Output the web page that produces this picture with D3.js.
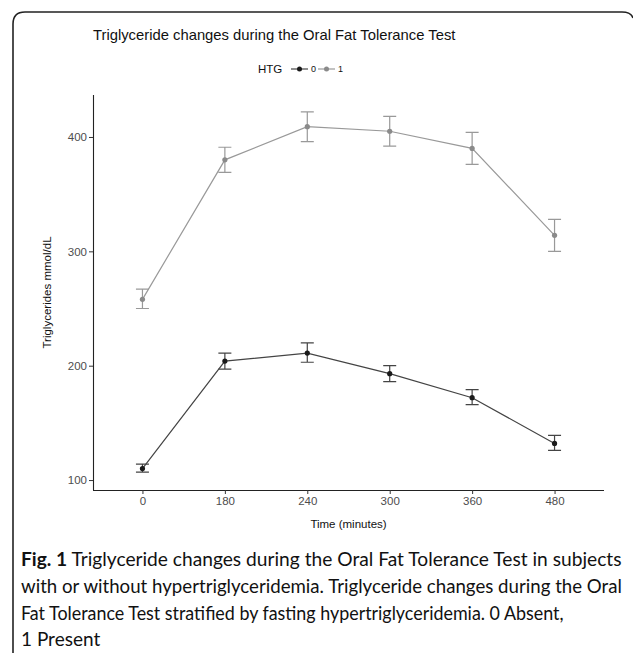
<!DOCTYPE html>
<html>
<head>
<meta charset="utf-8">
<script src="https://cdn.jsdelivr.net/npm/d3@7"></script>
<style>
  body { margin: 0; background: #fff; }
  svg { display: block; }
</style>
</head>
<body>
<div id="chart"></div>
<script>
// time points (categorical x axis)
var times = ["0", "180", "240", "300", "360", "480"];

// HTG = 0 (absent)
var htg0Mean = [110, 204, 211, 193, 172, 132];
var htg0Lo   = [107, 197, 203, 186, 166, 126];
var htg0Hi   = [114, 211, 220, 200, 179, 139];

// HTG = 1 (present)
var htg1Mean = [258, 380, 409, 405, 390, 314];
var htg1Lo   = [250, 369, 396, 392, 376, 300];
var htg1Hi   = [267, 391, 422, 418, 404, 328];

var yTicks = [100, 200, 300, 400];
var groups = ["0", "1"];

var captionLines = [
  "Triglyceride changes during the Oral Fat Tolerance Test in subjects",
  "with or without hypertriglyceridemia. Triglyceride changes during the Oral",
  "Fat Tolerance Test stratified by fasting hypertriglyceridemia. 0 Absent,",
  "1 Present"
];

var W = 633, H = 653;
var svg = d3.select("#chart").append("svg")
  .attr("width", W)
  .attr("height", H);

// figure frame
svg.append("path")
  .attr("d", "M13,660 V24 Q13,12 25,12 H622 Q631,12 633,18")
  .attr("fill", "none")
  .attr("stroke", "#222")
  .attr("stroke-width", 1.6);

var panel = { left: 93, right: 604, top: 95, bottom: 490 };

var x = d3.scalePoint()
  .domain(times)
  .range([panel.left, panel.right])
  .padding(0.6);

var y = d3.scaleLinear()
  .domain([91.3, 436.7])
  .range([panel.bottom, panel.top]);

var color = d3.scaleOrdinal().domain(groups).range(["#1a1a1a", "#8a8a8a"]);
var lineColor = d3.scaleOrdinal().domain(groups).range(["#444", "#999"]);

var font = "'Liberation Sans', Arial, sans-serif";

// title
svg.append("text")
  .attr("x", 93).attr("y", 40)
  .style("font-family", font)
  .style("font-size", "14.8px")
  .style("fill", "#111")
  .text("Triglyceride changes during the Oral Fat Tolerance Test");

// axes
var yAxis = svg.append("g")
  .attr("transform", "translate(" + panel.left + ",0)")
  .call(d3.axisLeft(y).tickValues(yTicks).tickSize(4).tickPadding(2));
var xAxis = svg.append("g")
  .attr("transform", "translate(0," + panel.bottom + ")")
  .call(d3.axisBottom(x).tickSize(4).tickPadding(3));

[yAxis, xAxis].forEach(function(a) {
  a.select(".domain").attr("stroke", "#222").attr("stroke-width", 1.1);
  a.selectAll(".tick line").attr("stroke", "#333").attr("stroke-width", 1);
  a.selectAll(".tick text")
    .style("font-family", font)
    .style("font-size", "11.5px")
    .style("fill", "#4d4d4d");
});
// d3 adds outer ticks; strip to a plain line
yAxis.select(".domain").attr("d", "M0.5," + panel.top + "V" + panel.bottom);
xAxis.select(".domain").attr("d", "M" + panel.left + ",0.5H" + panel.right);

// axis titles
svg.append("text")
  .attr("x", (panel.left + panel.right) / 2).attr("y", 528)
  .attr("text-anchor", "middle")
  .style("font-family", font)
  .style("font-size", "11.5px")
  .style("fill", "#111")
  .text("Time (minutes)");

svg.append("text")
  .attr("transform", "translate(51," + (panel.top + panel.bottom) / 2 + ") rotate(-90)")
  .attr("text-anchor", "middle")
  .style("font-family", font)
  .style("font-size", "11.5px")
  .style("fill", "#111")
  .text("Triglycerides mmol/dL");

// series
var series = [
  { key: "0", mean: htg0Mean, lo: htg0Lo, hi: htg0Hi },
  { key: "1", mean: htg1Mean, lo: htg1Lo, hi: htg1Hi }
];

var line = d3.line()
  .x(function(d) { return x(d.t); })
  .y(function(d) { return y(d.v); });

var capW = 6.5;

series.forEach(function(s) {
  var pts = times.map(function(t, i) {
    return { t: t, v: s.mean[i], lo: s.lo[i], hi: s.hi[i] };
  });
  var g = svg.append("g");

  g.selectAll(".eb").data(pts).enter().append("path")
    .attr("d", function(d) {
      var cx = x(d.t), y0 = y(d.lo), y1 = y(d.hi);
      return "M" + (cx - capW) + "," + y1 + "H" + (cx + capW) +
             "M" + cx + "," + y1 + "V" + y0 +
             "M" + (cx - capW) + "," + y0 + "H" + (cx + capW);
    })
    .attr("fill", "none")
    .attr("stroke", lineColor(s.key))
    .attr("stroke-width", 1.2);

  g.append("path")
    .datum(pts)
    .attr("d", line)
    .attr("fill", "none")
    .attr("stroke", lineColor(s.key))
    .attr("stroke-width", 1.2);

  g.selectAll("circle").data(pts).enter().append("circle")
    .attr("cx", function(d) { return x(d.t); })
    .attr("cy", function(d) { return y(d.v); })
    .attr("r", 2.6)
    .attr("fill", color(s.key));
});

// legend
var leg = svg.append("g").attr("transform", "translate(0,73)");
leg.append("text")
  .attr("x", 258).attr("y", 0)
  .style("font-family", font)
  .style("font-size", "11.5px")
  .style("fill", "#111")
  .text("HTG");

var keyX = [291, 318];
groups.forEach(function(k, i) {
  var kx = keyX[i];
  leg.append("line")
    .attr("x1", kx).attr("x2", kx + 17)
    .attr("y1", -4).attr("y2", -4)
    .attr("stroke", lineColor(k)).attr("stroke-width", 1.2);
  leg.append("circle")
    .attr("cx", kx + 8.5).attr("cy", -4).attr("r", 2.5)
    .attr("fill", color(k));
  leg.append("text")
    .attr("x", kx + 20).attr("y", -1)
    .style("font-family", font)
    .style("font-size", "9px")
    .style("fill", "#111")
    .text(k);
});

// caption: squeeze each full line horizontally to the measured width
var capFont = "Lato, 'Open Sans', sans-serif";
var capX = 21;
var capY = [566, 593, 620, 646];
var lineWidths = [601, 601, 543, null];
captionLines.forEach(function(txt, i) {
  var t = svg.append("text")
    .attr("x", 0).attr("y", 0)
    .style("font-family", capFont)
    .style("font-size", "19px")
    .style("fill", "#111");
  if (i === 0) {
    t.append("tspan").style("font-weight", "bold").text("Fig. 1");
    t.append("tspan").text(" " + txt);
  } else {
    t.text(txt);
  }
  var sx = 1;
  if (lineWidths[i]) sx = lineWidths[i] / t.node().getComputedTextLength();
  else sx = 1;
  t.attr("transform", "translate(" + capX + "," + capY[i] + ") scale(" + sx + ",1)");
});
</script>
</body>
</html>
